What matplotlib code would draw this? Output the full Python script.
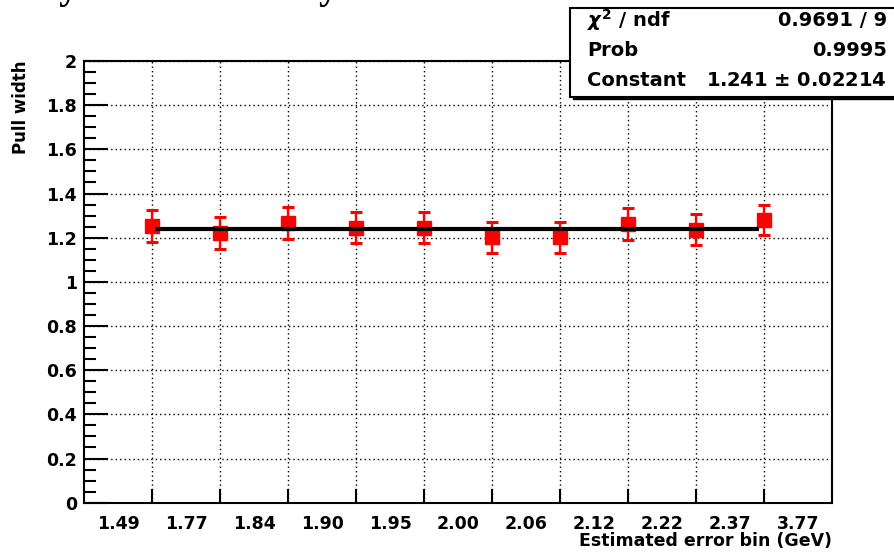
import numpy as np
import matplotlib
matplotlib.use("Agg")
import matplotlib.pyplot as plt
from matplotlib.patches import Rectangle
from matplotlib.ticker import MultipleLocator, FixedLocator, FixedFormatter

plt.rcParams['font.family'] = ['DejaVu Sans']
plt.rcParams['font.weight'] = 'bold'
plt.rcParams['axes.labelweight'] = 'bold'

# pull widths per estimated-error bin
bin_labels = ['1.49', '1.77', '1.84', '1.90', '1.95', '2.00',
              '2.06', '2.12', '2.22', '2.37', '3.77']
bin_pos = np.arange(1, 11)
pull_width = [1.253, 1.223, 1.266, 1.246, 1.246, 1.201, 1.201, 1.261, 1.237, 1.279]
pull_err = [0.073, 0.072, 0.073, 0.071, 0.071, 0.072, 0.071, 0.073, 0.072, 0.069]

# constant fit result
fit_const = 1.241
fit_const_err = 0.02214
fit_chi2 = 0.9691
fit_ndf = 9
fit_prob = 0.9995
fit_range = [1.05, 9.93]

fig = plt.figure(figsize=(8.95, 5.52), dpi=100)
ax = fig.add_axes([0.0939, 0.0893, 0.8357, 0.8002])

ax.errorbar(bin_pos, pull_width, yerr=pull_err, fmt='s', color='red', ms=9.5,
            elinewidth=1.7, capsize=4.3, capthick=2.2, zorder=3)
ax.plot(fit_range, [fit_const, fit_const], color='black', lw=3, zorder=4,
        solid_capstyle='butt')

ax.set_xlim(0, 11)
ax.set_ylim(0, 2)

# x: ticks at bin edges, labels at bin centres
ax.xaxis.set_major_locator(FixedLocator(bin_pos))
ax.xaxis.set_major_formatter(FixedFormatter([''] * len(bin_pos)))
ax.xaxis.set_minor_locator(FixedLocator(np.arange(11) + 0.5))
ax.xaxis.set_minor_formatter(FixedFormatter(bin_labels))
ax.tick_params(axis='x', which='major', direction='in', length=10, width=1.5)
ax.tick_params(axis='x', which='minor', length=0, pad=9, labelsize=12.5)

ax.yaxis.set_major_locator(MultipleLocator(0.2))
ax.yaxis.set_minor_locator(MultipleLocator(0.05))
ax.yaxis.set_major_formatter(plt.FuncFormatter(lambda v, p: '%g' % round(v, 2)))
ax.tick_params(axis='y', which='major', direction='in', length=17, width=1.5,
               pad=5, labelsize=12.5)
ax.tick_params(axis='y', which='minor', direction='in', length=8.6, width=1.5)

ax.grid(True, which='major', color='black', lw=1, linestyle=(0, (1, 2.2)))
ax.set_axisbelow(True)
for s in ax.spines.values():
    s.set_linewidth(1.5)

ax.set_xlabel('Estimated error bin (GeV)', loc='right', fontsize=12.5)
ax.xaxis.set_label_coords(1.0, -0.066)
ax.set_ylabel('Pull width', loc='top', fontsize=12)
ax.yaxis.set_label_coords(-0.072, 1.0)

# title, mostly above the canvas
fig.text(-0.069, 1.0045, 'Stability of the width by bin', family='Liberation Serif',
         weight='bold', fontsize=28, va='baseline', ha='left')

# fit statistics box
fig.patches.append(Rectangle((0.6403, 0.8198), 0.4, 0.1612, transform=fig.transFigure,
                             facecolor='black', edgecolor='black', zorder=5))
fig.patches.append(Rectangle((0.6369, 0.8243), 0.4, 0.1612, transform=fig.transFigure,
                             facecolor='white', edgecolor='black', lw=1.5, zorder=6))
rows = [(r'$\chi^{2}$ / ndf', '%.4f / %d' % (fit_chi2, fit_ndf)),
        ('Prob', '%.4f' % fit_prob),
        ('Constant', '%.3f $\\pm$ %.5f' % (fit_const, fit_const_err))]
for i, (name, val) in enumerate(rows):
    yy = 1 - (20 + 30 * i) / 552
    fig.text(587 / 895, yy, name, fontsize=14, va='center', ha='left', zorder=7)
    fig.text(887 / 895, yy, val, fontsize=14, va='center', ha='right', zorder=7)

fig.savefig('out.png', dpi=100)
